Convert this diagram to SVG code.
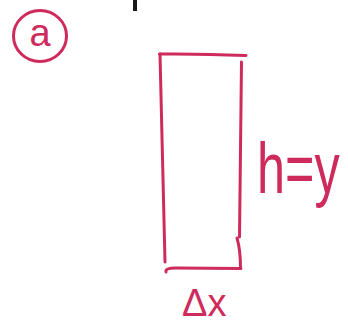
<svg xmlns="http://www.w3.org/2000/svg" width="348" height="327" viewBox="0 0 348 327">
<style>
.ink{fill:none;stroke:#cf2a5c;stroke-width:3;stroke-linecap:round;stroke-linejoin:round}
.hand{fill:#cf2a5c;font-family:"Liberation Sans","DejaVu Sans",sans-serif}
</style>
<rect width="348" height="327" fill="#ffffff"/>
<line x1="135" y1="0" x2="135" y2="11" stroke="#1a1a1a" stroke-width="4"/>
<g id="label-a">
<ellipse class="ink" cx="40" cy="36" rx="26.5" ry="25.5"/>
<text class="hand" x="40" y="46" font-size="38" text-anchor="middle">a</text>
</g>
<g id="strip">
<path class="ink" d="M159.5,54 Q200,53.5 246,55.5"/>
<path class="ink" d="M160,54 Q163,160 165,262"/>
<path class="ink" d="M241.5,62 Q240.5,150 239.5,237"/>
<path class="ink" d="M237,238 Q240.5,250 240.5,268"/>
<path class="ink" d="M166,272 Q165,268 175,268 L241,268.5"/>
</g>
<text class="hand" transform="translate(257,193) scale(1.2,1.7)" x="0" y="0" font-size="42">h=y</text>
<text class="hand" x="182" y="316" font-size="38">Δx</text>
</svg>
